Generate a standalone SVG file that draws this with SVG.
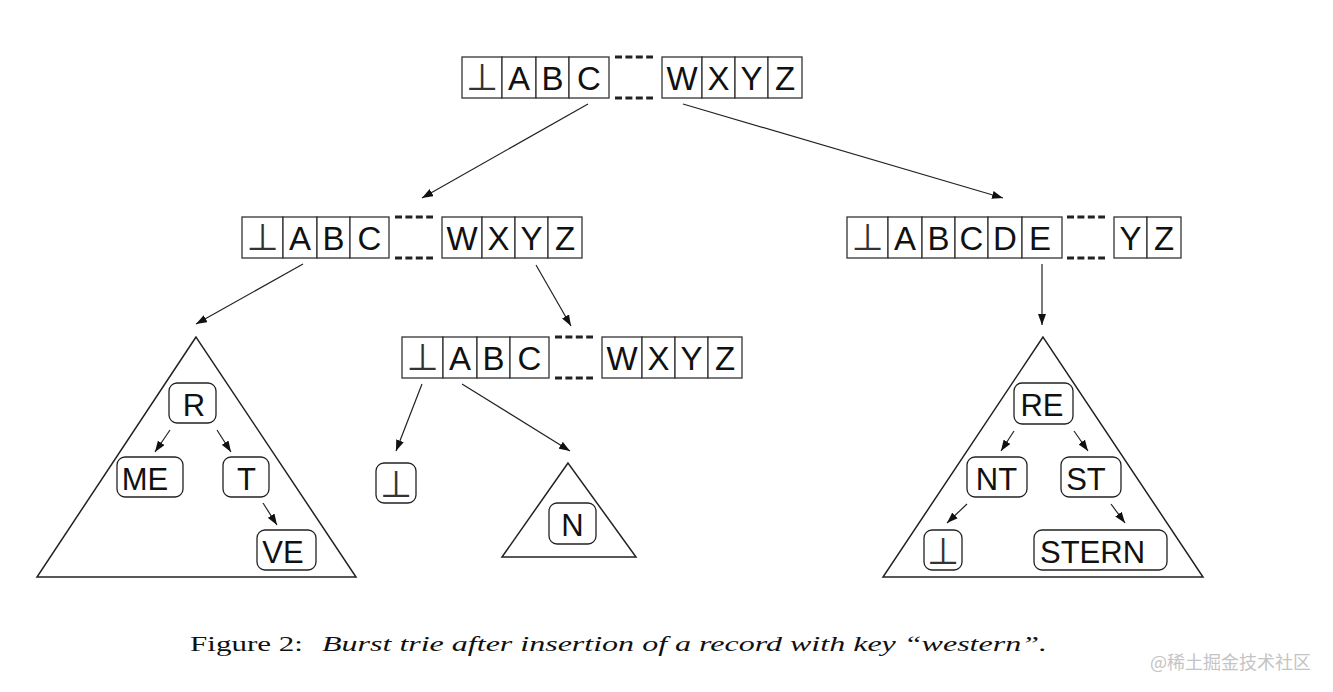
<svg xmlns="http://www.w3.org/2000/svg" width="1333" height="692" viewBox="0 0 1333 692">
<style>
.cell{fill:#fff;stroke:#333;stroke-width:1.3}
.dash{stroke:#222;stroke-width:3.2;stroke-dasharray:7 3.4;fill:none}
.lbl{font-family:"Liberation Sans",Arial,sans-serif;font-size:33px;fill:#111;text-anchor:middle}
.bot{font-family:"DejaVu Sans",sans-serif;font-size:37px;fill:#333;text-anchor:middle}
.rb{fill:#fff;stroke:#222;stroke-width:1.3}
.rl{font-family:"Liberation Sans",Arial,sans-serif;font-size:31px;fill:#111;text-anchor:middle}
.tri{fill:none;stroke:#222;stroke-width:1.5}
.edge{stroke:#222;stroke-width:1.2;fill:none;marker-end:url(#ah)}
.cap{font-family:"Liberation Serif","Times New Roman",serif;font-size:22px;fill:#111}
</style>
<defs>
<marker id="ah" markerUnits="userSpaceOnUse" markerWidth="11" markerHeight="8" refX="11" refY="4" orient="auto">
<path d="M0,0 L11,4 L0,8 z" fill="#111"/>
</marker>
</defs>
<rect width="1333" height="692" fill="#fff"/>

<g id="connectors">
<line class="edge" x1="588" y1="104" x2="422" y2="198"/>
<line class="edge" x1="683" y1="104" x2="1003" y2="198"/>
<line class="edge" x1="303" y1="264" x2="196" y2="324"/>
<line class="edge" x1="536" y1="265" x2="571" y2="326"/>
<line class="edge" x1="1042" y1="264" x2="1042" y2="325"/>
<line class="edge" x1="422" y1="384" x2="396" y2="451"/>
<line class="edge" x1="462" y1="384" x2="570" y2="451"/>
<line class="edge" x1="170" y1="430" x2="155" y2="452"/>
<line class="edge" x1="217" y1="430" x2="231" y2="452"/>
<line class="edge" x1="263" y1="503" x2="277" y2="525"/>
<line class="edge" x1="1014" y1="431" x2="1001" y2="451"/>
<line class="edge" x1="1074" y1="431" x2="1088" y2="451"/>
<line class="edge" x1="967" y1="504" x2="947" y2="523"/>
<line class="edge" x1="1111" y1="504" x2="1125" y2="523"/>
</g>

<g id="root-array">
<rect class="cell" x="462" y="57" width="40" height="41"/>
<rect class="cell" x="502" y="57" width="34" height="41"/>
<rect class="cell" x="536" y="57" width="33" height="41"/>
<rect class="cell" x="569" y="57" width="40" height="41"/>
<line class="dash" x1="615" y1="57" x2="653" y2="57"/>
<line class="dash" x1="615" y1="98" x2="653" y2="98"/>
<rect class="cell" x="662" y="57" width="40" height="41"/>
<rect class="cell" x="702" y="57" width="33" height="41"/>
<rect class="cell" x="735" y="57" width="33" height="41"/>
<rect class="cell" x="768" y="57" width="34" height="41"/>
<text class="bot" x="482" y="90">⊥</text>
<text class="lbl" x="519" y="90">A</text>
<text class="lbl" x="552.5" y="90">B</text>
<text class="lbl" x="589" y="90">C</text>
<text class="lbl" x="682" y="90">W</text>
<text class="lbl" x="718.5" y="90">X</text>
<text class="lbl" x="751.5" y="90">Y</text>
<text class="lbl" x="785" y="90">Z</text>
</g>

<g id="w-array">
<rect class="cell" x="242" y="217" width="41" height="41"/>
<rect class="cell" x="283" y="217" width="34" height="41"/>
<rect class="cell" x="317" y="217" width="33" height="41"/>
<rect class="cell" x="350" y="217" width="39" height="41"/>
<line class="dash" x1="395" y1="217" x2="433" y2="217"/>
<line class="dash" x1="395" y1="258" x2="433" y2="258"/>
<rect class="cell" x="442" y="217" width="40" height="41"/>
<rect class="cell" x="482" y="217" width="33" height="41"/>
<rect class="cell" x="515" y="217" width="33" height="41"/>
<rect class="cell" x="548" y="217" width="34" height="41"/>
<text class="bot" x="262.5" y="250">⊥</text>
<text class="lbl" x="300" y="250">A</text>
<text class="lbl" x="333.5" y="250">B</text>
<text class="lbl" x="369.5" y="250">C</text>
<text class="lbl" x="462" y="250">W</text>
<text class="lbl" x="498.5" y="250">X</text>
<text class="lbl" x="531.5" y="250">Y</text>
<text class="lbl" x="565" y="250">Z</text>
</g>

<g id="z-array">
<rect class="cell" x="847" y="217" width="41" height="41"/>
<rect class="cell" x="888" y="217" width="34" height="41"/>
<rect class="cell" x="922" y="217" width="33" height="41"/>
<rect class="cell" x="955" y="217" width="33" height="41"/>
<rect class="cell" x="988" y="217" width="34" height="41"/>
<rect class="cell" x="1022" y="217" width="40" height="41"/>
<line class="dash" x1="1067" y1="217" x2="1105" y2="217"/>
<line class="dash" x1="1067" y1="258" x2="1105" y2="258"/>
<rect class="cell" x="1114" y="217" width="33" height="41"/>
<rect class="cell" x="1147" y="217" width="34" height="41"/>
<text class="bot" x="867.5" y="250">⊥</text>
<text class="lbl" x="905" y="250">A</text>
<text class="lbl" x="938.5" y="250">B</text>
<text class="lbl" x="971.5" y="250">C</text>
<text class="lbl" x="1005" y="250">D</text>
<text class="lbl" x="1040" y="250">E</text>
<text class="lbl" x="1130.5" y="250">Y</text>
<text class="lbl" x="1164" y="250">Z</text>
</g>

<g id="wz-array">
<rect class="cell" x="402" y="337" width="41" height="41"/>
<rect class="cell" x="443" y="337" width="34" height="41"/>
<rect class="cell" x="477" y="337" width="33" height="41"/>
<rect class="cell" x="510" y="337" width="39" height="41"/>
<line class="dash" x1="555" y1="337" x2="593" y2="337"/>
<line class="dash" x1="555" y1="378" x2="593" y2="378"/>
<rect class="cell" x="602" y="337" width="40" height="41"/>
<rect class="cell" x="642" y="337" width="33" height="41"/>
<rect class="cell" x="675" y="337" width="33" height="41"/>
<rect class="cell" x="708" y="337" width="34" height="41"/>
<text class="bot" x="422.5" y="370">⊥</text>
<text class="lbl" x="460" y="370">A</text>
<text class="lbl" x="493.5" y="370">B</text>
<text class="lbl" x="529.5" y="370">C</text>
<text class="lbl" x="622" y="370">W</text>
<text class="lbl" x="658.5" y="370">X</text>
<text class="lbl" x="691.5" y="370">Y</text>
<text class="lbl" x="725" y="370">Z</text>
</g>

<g id="container-a">
<polygon class="tri" points="196,337 37,577 356,577"/>
<rect class="rb" x="169" y="383" width="47" height="40" rx="8"/>
<text class="rl" x="194" y="416">R</text>
<rect class="rb" x="117" y="457" width="66" height="40" rx="8"/>
<text class="rl" x="145" y="490">ME</text>
<rect class="rb" x="223" y="457" width="46" height="40" rx="8"/>
<text class="rl" x="246.5" y="490">T</text>
<rect class="rb" x="257" y="530" width="59" height="40" rx="8"/>
<text class="rl" x="283" y="563">VE</text>
</g>

<g id="bottom-leaf">
<rect class="rb" x="376" y="463" width="40" height="40" rx="8"/>
<text class="bot" x="396" y="497">⊥</text>
</g>

<g id="container-n">
<polygon class="tri" points="568,463 502,557 636,557"/>
<rect class="rb" x="549" y="503" width="47" height="41" rx="8"/>
<text class="rl" x="572.5" y="536">N</text>
</g>

<g id="container-e">
<polygon class="tri" points="1043,337 883,577 1203,577"/>
<rect class="rb" x="1014" y="383" width="59" height="41" rx="8"/>
<text class="rl" x="1042" y="416">RE</text>
<rect class="rb" x="967" y="457" width="60" height="40" rx="8"/>
<text class="rl" x="996.5" y="490">NT</text>
<rect class="rb" x="1061" y="457" width="60" height="40" rx="8"/>
<text class="rl" x="1086" y="490">ST</text>
<rect class="rb" x="924" y="530" width="38" height="40" rx="8"/>
<text class="bot" x="943" y="564">⊥</text>
<rect class="rb" x="1034" y="530" width="133" height="40" rx="8"/>
<text class="rl" x="1092.5" y="563">STERN</text>
</g>

<g id="caption">
<text class="cap" x="190" y="651" textLength="113" lengthAdjust="spacingAndGlyphs">Figure 2:</text>
<text class="cap" x="322" y="651" font-style="italic" textLength="725" lengthAdjust="spacingAndGlyphs">Burst trie after insertion of a record with key “western”.</text>
</g>
<text x="1150" y="669" font-family="'Noto Sans CJK SC',sans-serif" font-size="18" fill="#c4c4c4">@稀土掘金技术社区</text>
</svg>
